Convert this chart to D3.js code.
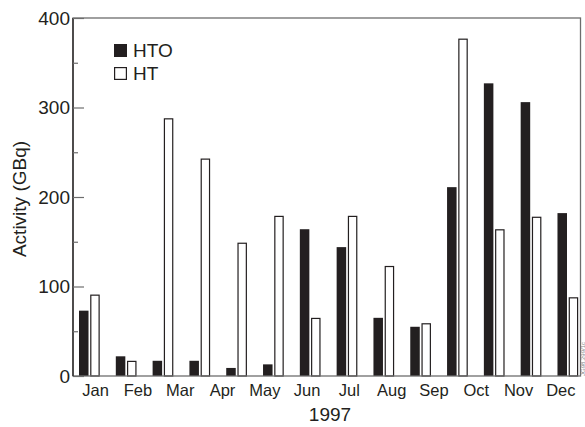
<!DOCTYPE html>
<html>
<head>
<meta charset="utf-8">
<script src="https://cdn.jsdelivr.net/npm/d3@7"></script>
<style>
	body { margin: 0; background: #fff; }
	text { font-family: "Liberation Sans", Arial, sans-serif; fill: #231f20; }
</style>
</head>
<body>
<script>
// Bar chart: HTO / HT activity, 1997
const width = 585;
const height = 427;
const margin = {top: 18, right: 4.5, bottom: 51, left: 73};

const months = ['Jan', 'Feb', 'Mar', 'Apr', 'May', 'Jun', 'Jul', 'Aug', 'Sep', 'Oct', 'Nov', 'Dec'];
const periods = [1, 2, 3, 4, 5, 6, 7, 8, 9, 10, 11, 12, 13, 14];
const hto = [73, 22, 17, 17, 9, 13, 164, 144, 65, 55, 211, 327, 306, 182];
const ht = [91, 17, 288, 243, 149, 179, 65, 179, 123, 59, 377, 164, 178, 88];
const series = ['HTO', 'HT'];
const yTicks = [0, 100, 200, 300, 400];
const yMinor = [50, 150, 250, 350];

const w = width - margin.left - margin.right;
const h = height - margin.top - margin.bottom;

const svg = d3.select('body')
	.append('svg')
	.attr('width', width)
	.attr('height', height);

const g = svg.append('g')
	.attr('transform', `translate(${margin.left}, ${margin.top})`);

let yScale = d3.scaleLinear()
	.domain([0, 400])
	.range([h, 0]);

let xGroup = d3.scaleBand()
	.domain(periods)
	.range([6, w - 2.3])
	.paddingInner(0.437)
	.paddingOuter(0);

let xSub = d3.scaleBand()
	.domain(series)
	.range([0, xGroup.bandwidth()])
	.paddingInner(0.15);

let xMonth = d3.scaleBand()
	.domain(months)
	.range([1.5, w + 1.5]);

let rows = periods.map((p, i) => ({period: p, HTO: hto[i], HT: ht[i]}));

// bars
let groups = g.selectAll('g.period')
	.data(rows)
	.join('g')
	.attr('class', 'period')
	.attr('transform', d => `translate(${xGroup(d.period)}, 0)`);

groups.append('rect')
	.attr('x', xSub('HTO'))
	.attr('y', d => yScale(d.HTO))
	.attr('width', xSub.bandwidth())
	.attr('height', d => h - yScale(d.HTO))
	.attr('fill', '#231f20');

groups.append('rect')
	.attr('x', xSub('HT') + 0.6)
	.attr('y', d => yScale(d.HT) + 0.6)
	.attr('width', xSub.bandwidth() - 1.2)
	.attr('height', d => h - yScale(d.HT) - 0.6)
	.attr('fill', '#fff')
	.attr('stroke', '#231f20')
	.attr('stroke-width', 1.2);

// frame
g.append('rect')
	.attr('width', w).attr('height', h)
	.attr('fill', 'none')
	.attr('stroke', '#6d6d6d')
	.attr('stroke-width', 1.3);

g.append('line')
	.attr('x1', 0).attr('x2', 0)
	.attr('y1', 0).attr('y2', h)
	.attr('stroke', '#231f20')
	.attr('stroke-width', 1.3);

// y axis
let yAxis = g.append('g')
	.call(d3.axisLeft(yScale).tickValues(yTicks).tickSize(-11).tickPadding(3));
yAxis.select('.domain').remove();
yAxis.selectAll('.tick line').attr('stroke', '#6d6d6d').attr('stroke-width', 1.2);
yAxis.selectAll('.tick text')
	.attr('font-size', 19)
	.attr('font-family', '"Liberation Sans", Arial, sans-serif')
	.attr('fill', '#231f20');

let yAxisMinor = g.append('g')
	.call(d3.axisLeft(yScale).tickValues(yMinor).tickSize(-5).tickFormat(''));
yAxisMinor.select('.domain').remove();
yAxisMinor.selectAll('.tick line').attr('stroke', '#6d6d6d').attr('stroke-width', 1.2);

// x axis (month labels)
let xAxis = g.append('g')
	.attr('transform', `translate(0, ${h})`)
	.call(d3.axisBottom(xMonth).tickSize(0).tickPadding(8));
xAxis.select('.domain').remove();
xAxis.selectAll('.tick text')
	.attr('font-size', 16.5)
	.attr('font-family', '"Liberation Sans", Arial, sans-serif')
	.attr('fill', '#231f20');

// axis titles
svg.append('text')
	.attr('x', 330).attr('y', 421)
	.attr('text-anchor', 'middle')
	.attr('font-size', 19)
	.text('1997');

svg.append('text')
	.attr('transform', 'translate(26, 199) rotate(-90)')
	.attr('text-anchor', 'middle')
	.attr('font-size', 19)
	.text('Activity (GBq)');

// legend
let legend = svg.append('g')
	.attr('transform', 'translate(114, 44)');
series.forEach((s, i) => {
	legend.append('rect')
		.attr('x', s === 'HT' ? 0.6 : 0)
		.attr('y', i * 23 + (s === 'HT' ? 0.6 : 0))
		.attr('width', s === 'HT' ? 11.8 : 13)
		.attr('height', s === 'HT' ? 11.8 : 13)
		.attr('fill', s === 'HTO' ? '#231f20' : '#fff')
		.attr('stroke', s === 'HTO' ? 'none' : '#231f20')
		.attr('stroke-width', 1.2);
	legend.append('text')
		.attr('x', 19).attr('y', i * 23 + 13)
		.attr('font-size', 19)
		.text(s);
});

// figure id
svg.append('text')
	.attr('transform', 'translate(585, 376) rotate(-90)')
	.attr('font-size', 6)
	.style('fill', '#888')
	.text('JG98.299/1c');
</script>
</body>
</html>
